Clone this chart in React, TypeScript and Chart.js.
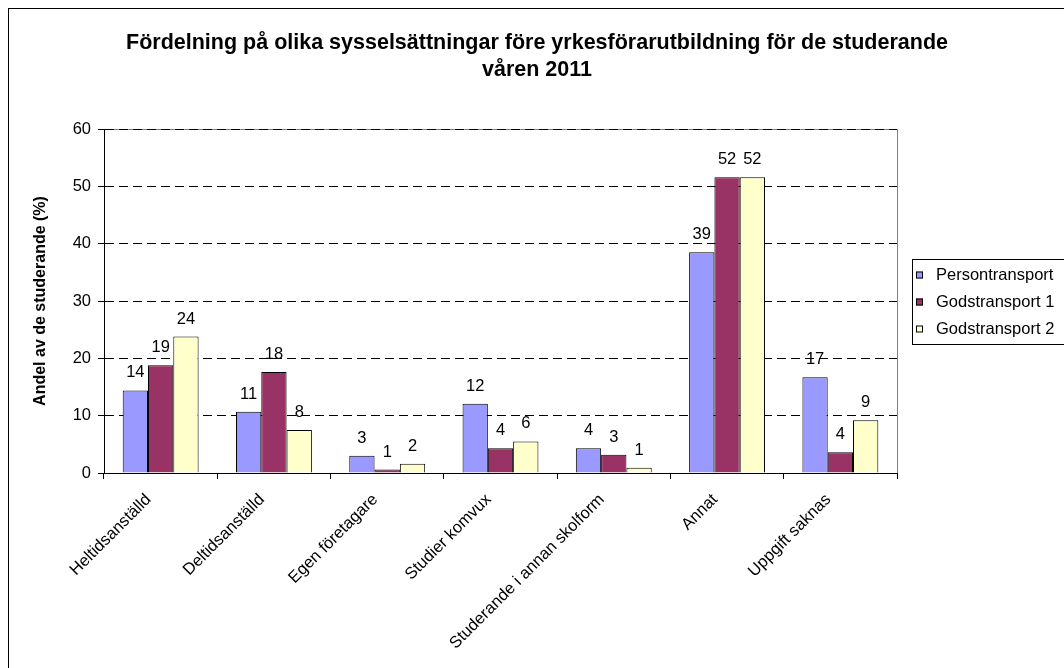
import React, { useEffect, useRef } from "react";
import { Chart, registerables } from "chart.js";

Chart.register(...registerables);

const categories = [
  "Heltidsanställd",
  "Deltidsanställd",
  "Egen företagare",
  "Studier komvux",
  "Studerande i annan skolform",
  "Annat",
  "Uppgift saknas",
];
const persontransport = [14.4, 10.7, 3.0, 12.1, 4.3, 38.5, 16.7];
const godstransport1 = [18.8, 17.6, 0.6, 4.3, 3.2, 51.6, 3.6];
const godstransport2 = [23.8, 7.5, 1.6, 5.5, 0.9, 51.6, 9.2];
const seriesNames = ["Persontransport", "Godstransport 1", "Godstransport 2"];
const seriesColors = ["#9999FF", "#993366", "#FFFFCC"];
const yMin = 0;
const yMax = 60;
const yStep = 10;
const titleLines = [
  "Fördelning på olika sysselsättningar före yrkesförarutbildning för de studerande",
  "våren 2011",
];
const yTitle = "Andel av de studerande (%)";

const FONT = "'Liberation Sans', Arial, sans-serif";

const decorPlugin = {
  id: "decor",
  beforeDraw(chart: any) {
    const ctx = chart.ctx;
    ctx.save();
    ctx.fillStyle = "#ffffff";
    ctx.fillRect(0, 0, chart.width, chart.height);
    ctx.strokeStyle = "#000";
    ctx.lineWidth = 1;
    ctx.strokeRect(8.5, 8.5, 1057, 720);
    ctx.fillStyle = "#000";
    ctx.font = `bold 21.5px ${FONT}`;
    ctx.textAlign = "center";
    ctx.textBaseline = "middle";
    ctx.fillText(titleLines[0], 537, 43);
    ctx.fillText(titleLines[1], 537, 70);
    const a = chart.chartArea;
    ctx.strokeStyle = "#808080";
    ctx.beginPath();
    ctx.moveTo(a.left, Math.round(a.top) + 0.5);
    ctx.lineTo(Math.round(a.right) + 0.5, Math.round(a.top) + 0.5);
    ctx.lineTo(Math.round(a.right) + 0.5, a.bottom);
    ctx.stroke();
    ctx.restore();
  },
  afterDatasetsDraw(chart: any) {
    const ctx = chart.ctx;
    ctx.save();
    ctx.fillStyle = "#000";
    ctx.font = `16.5px ${FONT}`;
    ctx.textAlign = "center";
    ctx.textBaseline = "alphabetic";
    chart.data.datasets.forEach((ds: any, i: number) => {
      const meta = chart.getDatasetMeta(i);
      meta.data.forEach((el: any, j: number) => {
        const v = ds.data[j];
        ctx.fillText(String(Math.round(v)), el.x, el.y - 13);
      });
    });
    ctx.restore();
  },
  afterDraw(chart: any) {
    const ctx = chart.ctx;
    ctx.save();
    const left = 912.5;
    const top = 259.5;
    ctx.strokeStyle = "#000";
    ctx.lineWidth = 1;
    ctx.strokeRect(left, top, 160, 85);
    ctx.font = `16.5px ${FONT}`;
    ctx.textAlign = "left";
    ctx.textBaseline = "middle";
    seriesNames.forEach((name, i) => {
      const cy = 275 + i * 27;
      ctx.fillStyle = seriesColors[i];
      ctx.fillRect(916, cy - 3.5, 7, 7);
      ctx.strokeStyle = "#000";
      ctx.strokeRect(916.5, cy - 3.5 + 0.5, 6, 6);
      ctx.fillStyle = "#000";
      ctx.fillText(name, 936, cy);
    });
    ctx.restore();
  },
};

export default function App() {
  const ref = useRef<HTMLCanvasElement | null>(null);
  useEffect(() => {
    if (!ref.current) return;
    const seriesData = [persontransport, godstransport1, godstransport2];
    const chart = new Chart(ref.current, {
      type: "bar",
      data: {
        labels: categories,
        datasets: seriesNames.map((name, i) => ({
          label: name,
          data: seriesData[i],
          backgroundColor: seriesColors[i],
          borderColor: "#000",
          borderWidth: 1,
          categoryPercentage: 0.67,
          barPercentage: 1,
        })),
      },
      options: {
        responsive: false,
        animation: false,
        devicePixelRatio: 1,
        layout: { padding: { top: 129, right: 167, left: 0, bottom: 0 } },
        plugins: {
          legend: { display: false },
          title: { display: false },
          tooltip: { enabled: false },
        },
        scales: {
          x: {
            afterFit: (s: any) => {
              s.height = 195;
            },
            border: { display: true, color: "#000", width: 1 },
            grid: {
              display: true,
              offset: true,
              drawOnChartArea: false,
              drawTicks: true,
              tickLength: 6,
              color: "#000",
              tickColor: "#000",
            },
            ticks: {
              autoSkip: false,
              minRotation: 45,
              maxRotation: 45,
              color: "#000",
              font: { family: FONT, size: 16.5 },
              padding: 11,
              labelOffset: -12,
            },
          },
          y: {
            min: yMin,
            max: yMax,
            afterFit: (s: any) => {
              s.width = 104;
            },
            border: { display: true, color: "#000", width: 1, dash: [9, 5] },
            grid: {
              color: "#000",
              tickColor: "#000",
              tickBorderDash: [],
              tickLength: 6,
              drawTicks: true,
            },
            ticks: {
              stepSize: yStep,
              color: "#000",
              font: { family: FONT, size: 16.5 },
              padding: 7,
            },
            title: {
              display: true,
              text: yTitle,
              color: "#000",
              font: { family: FONT, size: 16, weight: "bold" },
              padding: { top: 31, bottom: 0 },
            },
          },
        },
      },
      plugins: [decorPlugin],
    } as any);
    return () => chart.destroy();
  }, []);
  return (
    <div style={{ position: "fixed", left: 0, top: 0, width: 1064, height: 668 }}>
      <canvas ref={ref} width={1064} height={668} style={{ display: "block" }} />
    </div>
  );
}
